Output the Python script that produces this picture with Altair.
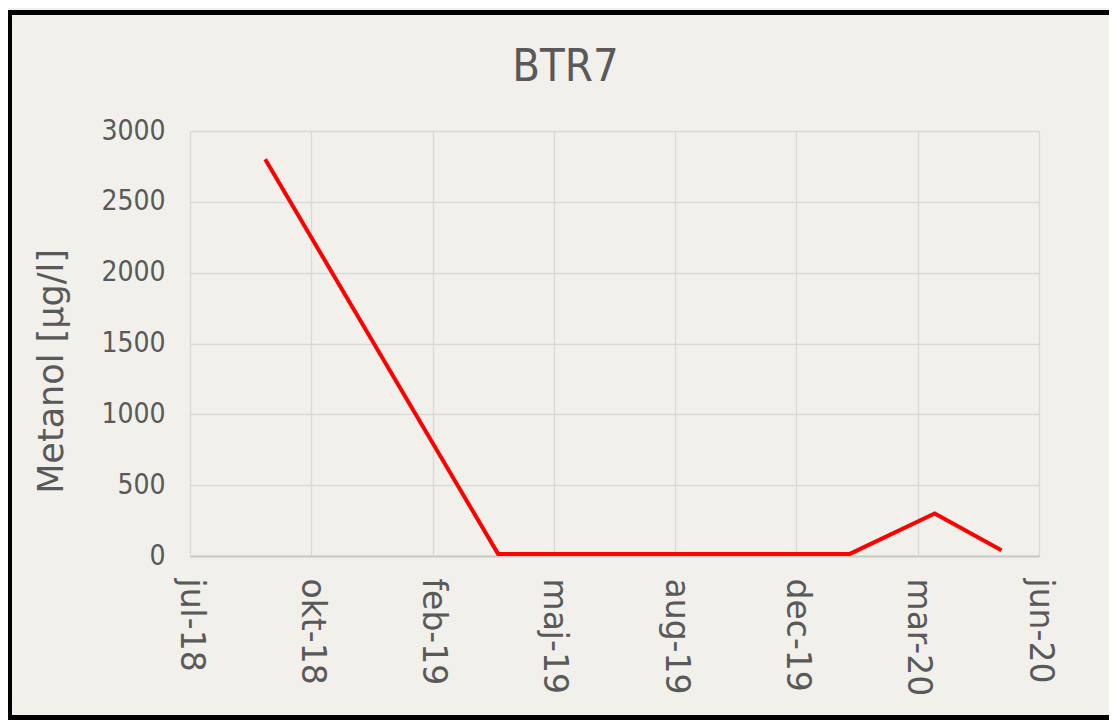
import altair as alt
import pandas as pd

# Sample dates and methanol concentrations (µg/l)
sample_dates = ["2018-09-19", "2019-03-30", "2020-01-14", "2020-03-24", "2020-05-18"]
metanol = [2800, 15, 15, 300, 40]

# X axis ticks (Excel date serials, step 100 days) and their labels
x_tick_values = [43300, 43400, 43500, 43600, 43700, 43800, 43900, 44000]
x_tick_labels = ["jul-18", "okt-18", "feb-19", "maj-19", "aug-19", "dec-19", "mar-20", "jun-20"]
y_tick_values = [0, 500, 1000, 1500, 2000, 2500, 3000]

excel_epoch = pd.Timestamp("1899-12-30")
serials = [(pd.Timestamp(d) - excel_epoch).days for d in sample_dates]

df = pd.DataFrame({"serial": serials, "dato": sample_dates, "Metanol": metanol})

label_map = "{" + ", ".join(f"'{v}': '{l}'" for v, l in zip(x_tick_values, x_tick_labels)) + "}"
label_expr = f"{label_map}[datum.value + '']"

TEXT = "#595959"
GRID = "#d9d9d9"
BG = "#f1f0eb"
COND = "DejaVu Sans Condensed, DejaVu Sans"

line = alt.Chart(df).mark_line(color="#ff0000", strokeWidth=4).encode(
    x=alt.X(
        "serial:Q",
        scale=alt.Scale(domain=[x_tick_values[0], x_tick_values[-1]], nice=False, zero=False),
        axis=alt.Axis(
            values=x_tick_values,
            labelExpr=label_expr,
            title=None,
            grid=True,
            gridColor=GRID,
            gridWidth=1.3,
            domain=True,
            domainColor="#c9c9c9",
            domainWidth=1.8,
            ticks=False,
            tickSize=0,
            labelAngle=90,
            labelPadding=22,
            labelFont="DejaVu Sans",
            labelFontSize=33,
            labelColor=TEXT,
            labelOverlap=False,
        ),
    ),
    y=alt.Y(
        "Metanol:Q",
        scale=alt.Scale(domain=[0, 3000], nice=False),
        axis=alt.Axis(
            values=y_tick_values,
            format="d",
            title="Metanol [µg/l]",
            grid=True,
            gridColor=GRID,
            gridWidth=1.3,
            domain=False,
            ticks=False,
            tickSize=0,
            labelPadding=25,
            labelFont=COND,
            labelFontSize=28,
            labelColor=TEXT,
            titleFont="DejaVu Sans",
            titleFontSize=35,
            titleFontWeight="normal",
            titleColor=TEXT,
            titleAngle=270,
            titleAlign="center",
            titleBaseline="alphabetic",
            titleX=-128,
            titleY=240,
        ),
    ),
)

one = alt.Data(values=[{}])
frame_top = alt.Chart(one).mark_rule(color="black", strokeWidth=5, clip=False).encode(
    x=alt.value(-183), x2=alt.value(1000), y=alt.value(-118.5)
)
frame_left = alt.Chart(one).mark_rule(color="black", strokeWidth=5, clip=False).encode(
    x=alt.value(-180.5), y=alt.value(-121), y2=alt.value(600)
)
frame_bottom = alt.Chart(one).mark_rule(color="black", strokeWidth=5, clip=False).encode(
    x=alt.value(-183), x2=alt.value(1000), y=alt.value(586.5)
)

chart = alt.layer(line, frame_top, frame_left, frame_bottom).properties(
    width=849,
    height=425,
    autosize=alt.AutoSizeParams(type="none"),
    padding={"left": 182, "top": 123, "right": 70, "bottom": 164},
    background=BG,
    title=alt.TitleParams(
        "BTR7",
        font=COND,
        fontSize=45,
        fontWeight="normal",
        color=TEXT,
        anchor="middle",
        baseline="alphabetic",
        offset=0,
        dx=-49,
        dy=118,
    ),
).configure_view(stroke=None)

chart.save("out.html", embed_options={"renderer": "svg", "actions": False})
